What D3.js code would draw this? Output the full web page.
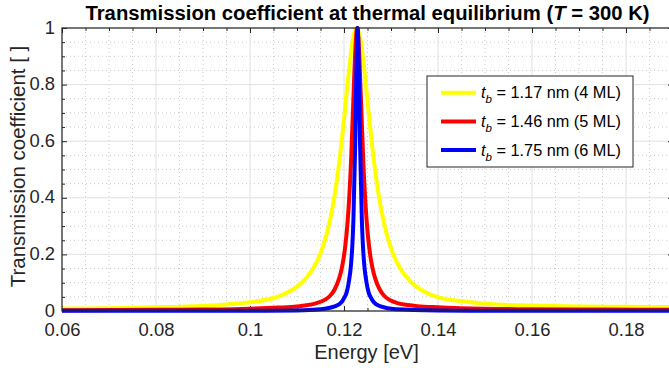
<!DOCTYPE html>
<html>
<head>
<meta charset="utf-8">
<script src="https://cdn.jsdelivr.net/npm/d3@7"></script>
<style>
  html, body { margin: 0; padding: 0; background: #fff; }
  svg { display: block; font-family: "Liberation Sans", Arial, Helvetica, sans-serif; }
</style>
</head>
<body>
<svg id="chart" width="669" height="368"></svg>
<script>
// Transmission coefficient T(E) for three barrier thicknesses, [energy eV, T]
const series4ML = [
  [0.060, 0.009], [0.070, 0.010], [0.080, 0.013], [0.090, 0.018], [0.095, 0.023],
  [0.100, 0.031], [0.105, 0.046], [0.107, 0.058], [0.109, 0.075], [0.111, 0.100],
  [0.113, 0.139], [0.114, 0.167], [0.115, 0.204], [0.116, 0.253], [0.117, 0.318],
  [0.118, 0.408], [0.119, 0.526], [0.120, 0.676], [0.121, 0.840], [0.122, 0.969],
  [0.1227, 1.000], [0.1234, 0.969], [0.1244, 0.840], [0.1254, 0.676], [0.1264, 0.526],
  [0.1274, 0.408], [0.1284, 0.318], [0.1294, 0.253], [0.1304, 0.204], [0.1314, 0.167],
  [0.1324, 0.139], [0.1344, 0.100], [0.1364, 0.075], [0.1384, 0.058], [0.1404, 0.047],
  [0.145, 0.035], [0.150, 0.026], [0.160, 0.019], [0.170, 0.016], [0.180, 0.015],
  [0.190, 0.014]
];
const series5ML = [
  [0.060, 0.003], [0.080, 0.004], [0.090, 0.005], [0.100, 0.008], [0.106, 0.012],
  [0.110, 0.016], [0.112, 0.020], [0.114, 0.027], [0.116, 0.040], [0.117, 0.053],
  [0.118, 0.076], [0.119, 0.117], [0.1195, 0.149], [0.1200, 0.195], [0.1205, 0.265],
  [0.1210, 0.370], [0.1215, 0.530], [0.1220, 0.750], [0.1224, 0.920], [0.1228, 1.000],
  [0.1232, 0.920], [0.1236, 0.750], [0.1241, 0.530], [0.1246, 0.370], [0.1251, 0.265],
  [0.1256, 0.195], [0.1261, 0.149], [0.1266, 0.117], [0.1276, 0.076], [0.1286, 0.053],
  [0.1296, 0.040], [0.1316, 0.027], [0.1336, 0.021], [0.1356, 0.017], [0.140, 0.013],
  [0.145, 0.010], [0.160, 0.006], [0.175, 0.005], [0.190, 0.004]
];
const series6ML = [
  [0.060, 0.0005], [0.100, 0.001], [0.110, 0.002], [0.115, 0.006], [0.118, 0.016],
  [0.1195, 0.032], [0.1200, 0.045], [0.1205, 0.0625], [0.1210, 0.100], [0.1215, 0.165],
  [0.1218, 0.240], [0.1220, 0.320], [0.1224, 0.600], [0.1226, 0.820], [0.1229, 1.000],
  [0.1232, 0.820], [0.1234, 0.600], [0.1238, 0.320], [0.1240, 0.240], [0.1243, 0.165],
  [0.1248, 0.100], [0.1253, 0.0625], [0.1258, 0.045], [0.1263, 0.032], [0.1278, 0.016],
  [0.131, 0.006], [0.140, 0.002], [0.150, 0.001], [0.190, 0.0005]
];

const seriesNames = ["1.17 nm (4 ML)", "1.46 nm (5 ML)", "1.75 nm (6 ML)"];
const seriesColors = ["#ffff00", "#ff0000", "#0000ff"];

const xDomain = [0.06, 0.19];
const yDomain = [0, 1];
const xMajorTicks = [0.06, 0.08, 0.10, 0.12, 0.14, 0.16, 0.18];
const xTickLabels = ["0.06", "0.08", "0.1", "0.12", "0.14", "0.16", "0.18"];
const yMajorTicks = [0, 0.2, 0.4, 0.6, 0.8, 1];
const yTickLabels = ["0", "0.2", "0.4", "0.6", "0.8", "1"];
const xMinorStep = 0.005;
const yMinorStep = 0.05;

const svg = d3.select("#chart");
const plotLeft = 62, plotRight = 673, plotTop = 28, plotBottom = 311;

const x = d3.scaleLinear().domain(xDomain).range([plotLeft, plotRight]);
const y = d3.scaleLinear().domain(yDomain).range([plotBottom, plotTop]);

const xMinor = d3.range(Math.round((xDomain[1] - xDomain[0]) / xMinorStep) + 1)
  .map(i => +(xDomain[0] + i * xMinorStep).toFixed(4))
  .filter(v => !xMajorTicks.some(m => Math.abs(m - v) < 1e-9));
const yMinor = d3.range(Math.round((yDomain[1] - yDomain[0]) / yMinorStep) + 1)
  .map(i => +(yDomain[0] + i * yMinorStep).toFixed(4))
  .filter(v => !yMajorTicks.some(m => Math.abs(m - v) < 1e-9));

const axisColor = "#262626";

// minor grid (dotted)
const grid = svg.append("g");
grid.selectAll(".gxm").data(xMinor).join("line")
  .attr("x1", d => x(d)).attr("x2", d => x(d)).attr("y1", plotTop).attr("y2", plotBottom)
  .attr("stroke", "#bdbdbd").attr("stroke-width", 0.8).attr("stroke-dasharray", "1,3");
grid.selectAll(".gym").data(yMinor).join("line")
  .attr("y1", d => y(d)).attr("y2", d => y(d)).attr("x1", plotLeft).attr("x2", plotRight)
  .attr("stroke", "#bdbdbd").attr("stroke-width", 0.8).attr("stroke-dasharray", "1,3");
// major grid (solid)
grid.selectAll(".gx").data(xMajorTicks).join("line")
  .attr("x1", d => x(d)).attr("x2", d => x(d)).attr("y1", plotTop).attr("y2", plotBottom)
  .attr("stroke", "#e0e0e0").attr("stroke-width", 1);
grid.selectAll(".gy").data(yMajorTicks).join("line")
  .attr("y1", d => y(d)).attr("y2", d => y(d)).attr("x1", plotLeft).attr("x2", plotRight)
  .attr("stroke", "#e0e0e0").attr("stroke-width", 1);

// axes: inward ticks on all four sides
function styleAxis(g) {
  g.select(".domain").remove();
  g.selectAll(".tick line").attr("stroke", axisColor);
  g.selectAll("text").attr("fill", axisColor).attr("font-size", 18.4)
    .attr("font-family", "'Liberation Sans', Arial, sans-serif");
}
const xAxisB = d3.axisBottom(x).tickValues(xMajorTicks).tickSize(-5).tickPadding(12)
  .tickFormat((d, i) => xTickLabels[i]);
svg.append("g").attr("transform", `translate(0,${plotBottom})`).call(xAxisB).call(styleAxis);
svg.append("g").attr("transform", `translate(0,${plotTop})`)
  .call(d3.axisTop(x).tickValues(xMajorTicks).tickSize(-5).tickFormat(""))
  .call(styleAxis);
svg.append("g").attr("transform", `translate(0,${plotBottom})`)
  .call(d3.axisBottom(x).tickValues(xMinor).tickSize(-3).tickFormat("")).call(styleAxis);
svg.append("g").attr("transform", `translate(0,${plotTop})`)
  .call(d3.axisTop(x).tickValues(xMinor).tickSize(-3).tickFormat("")).call(styleAxis);

const yAxisL = d3.axisLeft(y).tickValues(yMajorTicks).tickSize(-5).tickPadding(7)
  .tickFormat((d, i) => yTickLabels[i]);
svg.append("g").attr("transform", `translate(${plotLeft},0)`).call(yAxisL).call(styleAxis)
  .selectAll("text").attr("dy", "0.28em");
svg.append("g").attr("transform", `translate(${plotLeft},0)`)
  .call(d3.axisLeft(y).tickValues(yMinor).tickSize(-3).tickFormat("")).call(styleAxis);
svg.append("g").attr("transform", `translate(${plotRight},0)`)
  .call(d3.axisRight(y).tickValues(yMajorTicks).tickSize(-5).tickFormat("")).call(styleAxis);
svg.append("g").attr("transform", `translate(${plotRight},0)`)
  .call(d3.axisRight(y).tickValues(yMinor).tickSize(-3).tickFormat("")).call(styleAxis);

// curves
const line = d3.line().x(d => x(d[0])).y(d => y(d[1])).curve(d3.curveMonotoneX);
const curves = svg.append("g");
[series4ML, series5ML, series6ML].forEach((s, i) => {
  curves.append("path").datum(s)
    .attr("d", line)
    .attr("fill", "none")
    .attr("stroke", seriesColors[i])
    .attr("stroke-width", 4)
    .attr("stroke-linejoin", "round");
});

// axes box
svg.append("rect")
  .attr("x", plotLeft).attr("y", plotTop)
  .attr("width", plotRight - plotLeft).attr("height", plotBottom - plotTop)
  .attr("fill", "none").attr("stroke", axisColor).attr("stroke-width", 1.2);

// title
const title = svg.append("text")
  .attr("x", (plotLeft + plotRight) / 2).attr("y", 20)
  .attr("text-anchor", "middle").attr("font-weight", "bold").attr("font-size", 20.3)
  .attr("fill", "#000");
title.append("tspan").text("Transmission coefficient at thermal equilibrium (");
title.append("tspan").attr("font-style", "italic").text("T");
title.append("tspan").text(" = 300 K)");

// axis labels
svg.append("text")
  .attr("x", (plotLeft + plotRight) / 2 - 1).attr("y", 359)
  .attr("text-anchor", "middle").attr("font-size", 20).attr("fill", axisColor)
  .text("Energy [eV]");
svg.append("text")
  .attr("transform", `translate(25,${(plotTop + plotBottom) / 2 - 3}) rotate(-90)`)
  .attr("text-anchor", "middle").attr("font-size", 20.5).attr("fill", axisColor)
  .text("Transmission coefficient [ ]");

// legend
const lg = svg.append("g");
lg.append("rect").attr("x", 427).attr("y", 76).attr("width", 206).attr("height", 91)
  .attr("fill", "#fff").attr("stroke", axisColor).attr("stroke-width", 1);
seriesNames.forEach((name, i) => {
  const cy = 92.7 + i * 28.7;
  lg.append("line").attr("x1", 441).attr("x2", 476).attr("y1", cy).attr("y2", cy)
    .attr("stroke", seriesColors[i]).attr("stroke-width", 4);
  const t = lg.append("text").attr("x", 481).attr("y", cy + 5.5)
    .attr("font-size", 16.3).attr("fill", "#000");
  t.append("tspan").attr("font-style", "italic").text("t");
  t.append("tspan").attr("font-style", "italic").attr("font-size", 11.5).attr("dy", 5).text("b");
  t.append("tspan").attr("dy", -5).text(" = " + name);
});
</script>
</body>
</html>
